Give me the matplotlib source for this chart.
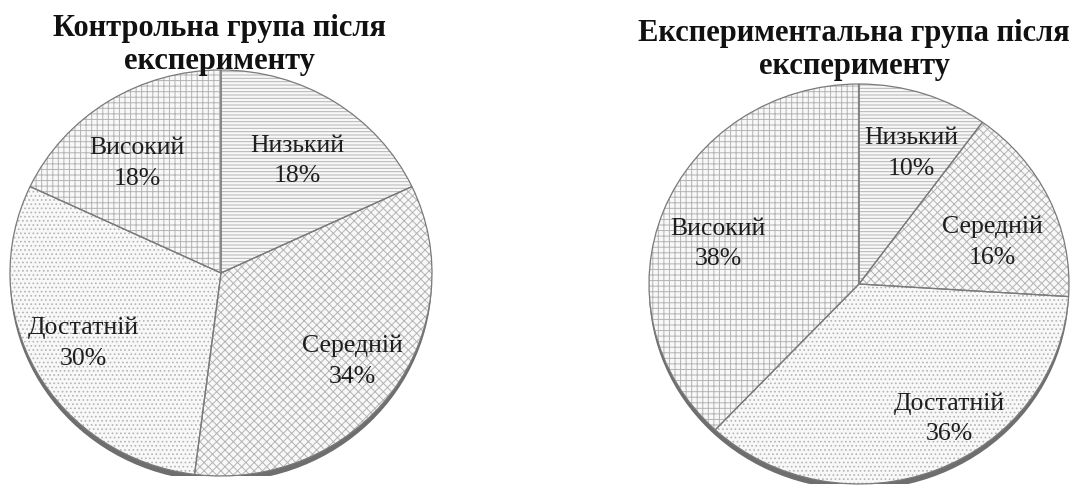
import matplotlib
matplotlib.use("Agg")
import numpy as np
import matplotlib.pyplot as plt
from matplotlib.patches import Ellipse

plt.rcParams['font.family'] = ['Liberation Serif', 'DejaVu Serif']
plt.rcParams['hatch.linewidth'] = 0.7

categories = ["Низький", "Середній", "Достатній", "Високий"]
control_values = [18, 34, 30, 18]
experimental_values = [10, 16, 36, 38]
titles = ["Контрольна група після\nексперименту", "Експериментальна група після\nексперименту"]

# label placement style (radial distance, angular offset in degrees) per slice
control_label_pos = [(0.66, -1), (0.76, 1), (0.74, -1), (0.67, 4)]
experimental_label_pos = [(0.70, -3), (0.67, -7), (0.80, 11), (0.70, 5)]

hatches = ["-----", "xxxx", "....", "+++"]
W, H = 1081, 495

fig = plt.figure(figsize=(W / 100, H / 100), dpi=100)
fig.patch.set_facecolor("white")


def draw_pie(values, label_pos, cx, cy, rx, ry, title, tx, ty1):
    ax = fig.add_axes([(cx - rx) / W, (H - cy - ry) / H, 2 * rx / W, 2 * ry / H])
    ax.axis("off")
    ax.add_patch(Ellipse((0, -0.028), 2.0, 2.0, facecolor="#6e6e6e", edgecolor="none", zorder=0))
    wedges, _ = ax.pie(values, startangle=90, counterclock=False, radius=1.0,
                       wedgeprops=dict(facecolor="#f8f8f8", edgecolor="#b4b4b4", linewidth=0.0))
    for w, h in zip(wedges, hatches):
        w.set_hatch(h)
        w.set_zorder(1)
    outlines, _ = ax.pie(values, startangle=90, counterclock=False, radius=1.0,
                         wedgeprops=dict(facecolor="none", edgecolor="#7a7a7a", linewidth=0.9))
    for w in outlines:
        w.set_zorder(2)
    for w, c, v, (d, da) in zip(wedges, categories, values, label_pos):
        ang = np.deg2rad((w.theta1 + w.theta2) / 2 + da)
        ax.text(d * np.cos(ang), d * np.sin(ang), f"{c}\n{v}%", ha="center", va="center",
                fontsize=18.5, color="#1e1e1e", linespacing=1.5, zorder=3)
    ax.set_xlim(-1.0, 1.0)
    ax.set_ylim(-1.0, 1.0)
    ax.set_aspect("auto")
    fig.text(tx / W, 1 - ty1 / H, title, ha="center", va="top", fontsize=22,
             fontweight="bold", linespacing=1.18, color="#111111")


draw_pie(control_values, control_label_pos, 221, 273, 211, 203, titles[0], 219, 14)
draw_pie(experimental_values, experimental_label_pos, 859, 284, 210, 200, titles[1], 854, 19)

fig.savefig("out.png", dpi=100, facecolor="white")
